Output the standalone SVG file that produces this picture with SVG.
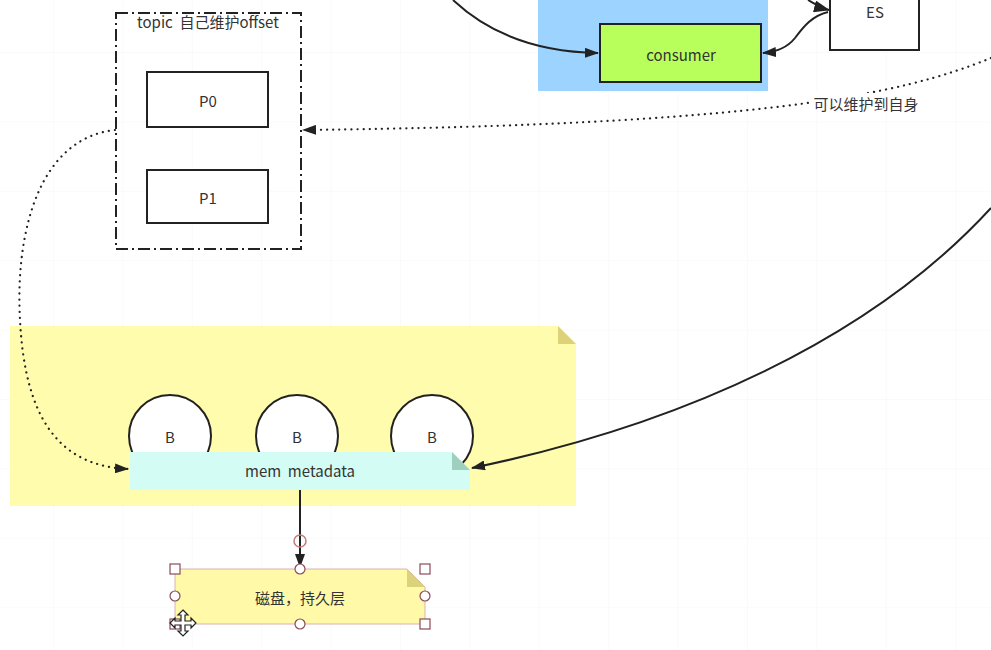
<svg xmlns="http://www.w3.org/2000/svg" width="991" height="650" viewBox="0 0 991 650">
<style>
text{font-family:"Noto Sans CJK SC","Liberation Sans",sans-serif;font-size:15px;fill:#333;text-anchor:middle;dominant-baseline:central;white-space:pre}
.box{fill:#fff;stroke:#222;stroke-width:2}
.ln{fill:none;stroke:#222;stroke-width:2}
.dot{fill:none;stroke:#222;stroke-width:2.2;stroke-dasharray:0.1 6;stroke-linecap:round}
.hsq{fill:#fff;stroke:#8a4a5a;stroke-width:1.2}
.hci{fill:#fff;stroke:#8a4a5a;stroke-width:1.2}
</style>
<defs>
<pattern id="grid" x="53" y="52" width="69.4" height="69.4" patternUnits="userSpaceOnUse">
<path d="M0,0V69.4M0,0H69.4" fill="none" stroke="#f5f5f5" stroke-width="1"/>
</pattern>
<marker id="arr" viewBox="0 0 14 10" refX="13" refY="5" markerWidth="14" markerHeight="10" markerUnits="userSpaceOnUse" orient="auto-start-reverse">
<path d="M0,0L14,5L0,10z" fill="#222"/>
</marker>
<marker id="arrB" viewBox="0 0 16 12" refX="15" refY="6" markerWidth="16" markerHeight="12" markerUnits="userSpaceOnUse" orient="auto">
<path d="M0,0L16,6L0,12z" fill="#222"/>
</marker>
</defs>
<rect width="991" height="650" fill="#fff"/>
<rect width="991" height="650" fill="url(#grid)"/>

<g id="consumer-area">
<rect x="538" y="0" width="230" height="91" fill="#9dd3ff"/>
</g>
<g id="topic">
<rect x="116" y="13" width="185" height="236" fill="none" stroke="#222" stroke-width="2" stroke-dasharray="12 4 2 4"/>
<text x="208" y="21" xml:space="preserve">topic  自己维护offset</text>
</g>
<g id="p0"><rect class="box" x="147" y="72" width="121" height="55"/><text x="208" y="100">P0</text></g>
<g id="p1"><rect class="box" x="147" y="170" width="121" height="53"/><text x="208" y="197">P1</text></g>
<g id="consumer"><rect x="600" y="24" width="161" height="58" fill="#b8ff5c" stroke="#222" stroke-width="2"/><text x="681" y="54">consumer</text></g>
<g id="es"><rect class="box" x="830" y="-10" width="89" height="60"/><text x="875" y="11">ES</text></g>

<g id="broker-note">
<path d="M10,326H558L576,344V506H10z" fill="#fffcad"/>
<path d="M558,326L576,344H558z" fill="#ddd27a"/>
</g>
<g id="b1"><circle cx="170" cy="436" r="41" fill="#fff" stroke="#222" stroke-width="2"/><text x="170" y="436">B</text></g>
<g id="b2"><circle cx="297" cy="436" r="41" fill="#fff" stroke="#222" stroke-width="2"/><text x="297" y="436">B</text></g>
<g id="b3"><circle cx="432" cy="436" r="41" fill="#fff" stroke="#222" stroke-width="2"/><text x="432" y="436">B</text></g>
<g id="mem-metadata">
<path d="M130,452H452L470,470V490H130z" fill="#d3fcf4"/>
<path d="M452,452L470,470H452z" fill="#9fcfbf"/>
<text x="300" y="470" xml:space="preserve">mem  metadata</text>
</g>
<g id="disk">
<path d="M175,569H407L425,587V624H175z" fill="#fff9a8" stroke="#d9b2b2" stroke-width="1"/>
<path d="M407,569L425,587H407z" fill="#dcd27c"/>
<text x="300" y="597">磁盘，持久层</text>
</g>

<g id="connectors">
<path class="ln" d="M453,0C485,30 530,52 598,53" marker-end="url(#arr)"/>
<path class="ln" d="M808,0C815,4 821,8 829,10" marker-end="url(#arrB)"/>
<path class="ln" d="M828,12C812,16 804,26 795,38C787,48 776,52 763,53" marker-end="url(#arr)" stroke-width="2.4"/>
<path class="dot" d="M991,58C900,95 760,125 303,130" marker-end="url(#arr)"/>
<path class="dot" d="M115,130C40,138 15,230 20,320C25,420 60,466 128,469" marker-end="url(#arr)"/>
<path class="ln" d="M991,208C870,340 680,425 472,468" marker-end="url(#arr)"/>
<path class="ln" d="M300,490V567" marker-end="url(#arr)"/>
</g>
<g id="label">
<rect x="811" y="93" width="110" height="20" fill="#fff"/>
<text x="866" y="103">可以维护到自身</text>
</g>
<g id="selection">
<circle cx="300" cy="541" r="6" fill="none" stroke="#c47c7c" stroke-width="1.5"/>
<rect class="hsq" x="170" y="564" width="10" height="10"/>
<rect class="hsq" x="420" y="564" width="10" height="10"/>
<rect class="hsq" x="170" y="619" width="10" height="10"/>
<rect class="hsq" x="420" y="619" width="10" height="10"/>
<circle class="hci" cx="300" cy="569" r="5"/>
<circle class="hci" cx="175" cy="596" r="5"/>
<circle class="hci" cx="425" cy="596" r="5"/>
<circle class="hci" cx="300" cy="624" r="5"/>
<path d="M183,610L188,615H185V621H191V618L196,623L191,628V625H185V631H188L183,636L178,631H181V625H175V628L170,623L175,618V621H181V615H178z" fill="#fff" stroke="#222" stroke-width="1.2"/>
</g>
</svg>
